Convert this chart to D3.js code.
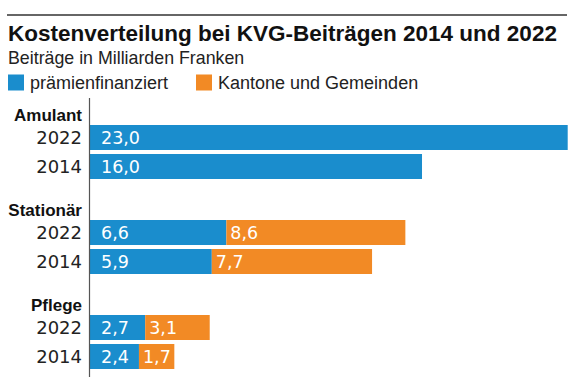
<!DOCTYPE html>
<html>
<head>
<meta charset="utf-8">
<script src="https://cdn.jsdelivr.net/npm/d3@7"></script>
<style>
  html, body { margin: 0; padding: 0; background: #fff; }
  svg { display: block; font-family: "Liberation Sans", Arial, sans-serif; }
  .num { font-family: "DejaVu Sans", sans-serif; }
</style>
</head>
<body>
<div id="chart"></div>
<script>
// data
const groups = ['Amulant', 'Stationär', 'Pflege'];
const years = ['2022', '2014'];
const praemienfinanziert = [[23.0, 16.0], [6.6, 5.9], [2.7, 2.4]];
const kantoneGemeinden = [[null, null], [8.6, 7.7], [3.1, 1.7]];
const seriesNames = ['prämienfinanziert', 'Kantone und Gemeinden'];
const colors = ['#1a8dcd', '#f28a25'];

const width = 582, height = 377;
const svg = d3.select('#chart').append('svg')
  .attr('width', width).attr('height', height);

// header
svg.append('line')
  .attr('x1', 7).attr('x2', 567).attr('y1', 15).attr('y2', 15)
  .attr('stroke', '#333').attr('stroke-width', 1.5);
svg.append('text')
  .attr('x', 8).attr('y', 41)
  .attr('font-size', 22.5).attr('font-weight', 'bold').attr('fill', '#111')
  .text('Kostenverteilung bei KVG-Beiträgen 2014 und 2022');
svg.append('text')
  .attr('x', 8).attr('y', 64)
  .attr('font-size', 17.8).attr('fill', '#222')
  .text('Beiträge in Milliarden Franken');

const legend = svg.append('g').selectAll('g').data(seriesNames).join('g')
  .attr('transform', (d, i) => `translate(${i ? 196 : 8},74.5)`);
legend.append('rect').attr('width', 16).attr('height', 16).attr('fill', (d, i) => colors[i]);
legend.append('text').attr('x', 22).attr('y', 14)
  .attr('font-size', 18).attr('fill', '#222').text((d) => d);

// scales
const x = d3.scaleLinear().domain([0, 23]).range([89, 567.7]);
const yGroup = d3.scaleBand().domain(groups).range([100, 385]);
const yYear = d3.scaleBand().domain(years).range([25, 79]).paddingInner(4 / 29);

const rows = [];
groups.forEach((g, gi) => {
  years.forEach((yr, yi) => {
    const a = praemienfinanziert[gi][yi];
    const b = kantoneGemeinden[gi][yi];
    rows.push({ group: g, year: yr, key: 0, x0: 0, x1: a, value: a });
    if (b != null) rows.push({ group: g, year: yr, key: 1, x0: a, x1: a + b, value: b });
  });
});

const yPos = (d) => yGroup(d.group) + yYear(d.year);
const fmt = (v) => d3.format('.1f')(v).replace('.', ',');

svg.append('g').selectAll('rect').data(rows).join('rect')
  .attr('x', (d) => x(d.x0))
  .attr('y', yPos)
  .attr('width', (d) => x(d.x1) - x(d.x0))
  .attr('height', yYear.bandwidth())
  .attr('fill', (d) => colors[d.key]);

svg.append('g').attr('class', 'num').selectAll('text').data(rows).join('text')
  .attr('x', (d) => x(d.x0) + (d.key ? 4 : 12))
  .attr('y', (d) => yPos(d) + yYear.bandwidth() / 2 + 6.5)
  .attr('font-size', 17.5).attr('fill', '#fff')
  .text((d) => fmt(d.value));

// group and year labels
svg.append('g').selectAll('text').data(groups).join('text')
  .attr('x', 82).attr('y', (d) => yGroup(d) + 21)
  .attr('text-anchor', 'end').attr('font-size', 17).attr('font-weight', 'bold').attr('fill', '#111')
  .text((d) => d);

const yearLabels = groups.flatMap((g) => years.map((yr) => ({ group: g, year: yr })));
svg.append('g').attr('class', 'num').selectAll('text').data(yearLabels).join('text')
  .attr('x', 82).attr('y', (d) => yGroup(d.group) + yYear(d.year) + yYear.bandwidth() / 2 + 6.5)
  .attr('text-anchor', 'end').attr('font-size', 18).attr('fill', '#222')
  .text((d) => d.year);

// axis line
svg.append('line')
  .attr('x1', 89.5).attr('x2', 89.5).attr('y1', 98).attr('y2', height)
  .attr('stroke', '#555').attr('stroke-width', 1.2);
</script>
</body>
</html>
